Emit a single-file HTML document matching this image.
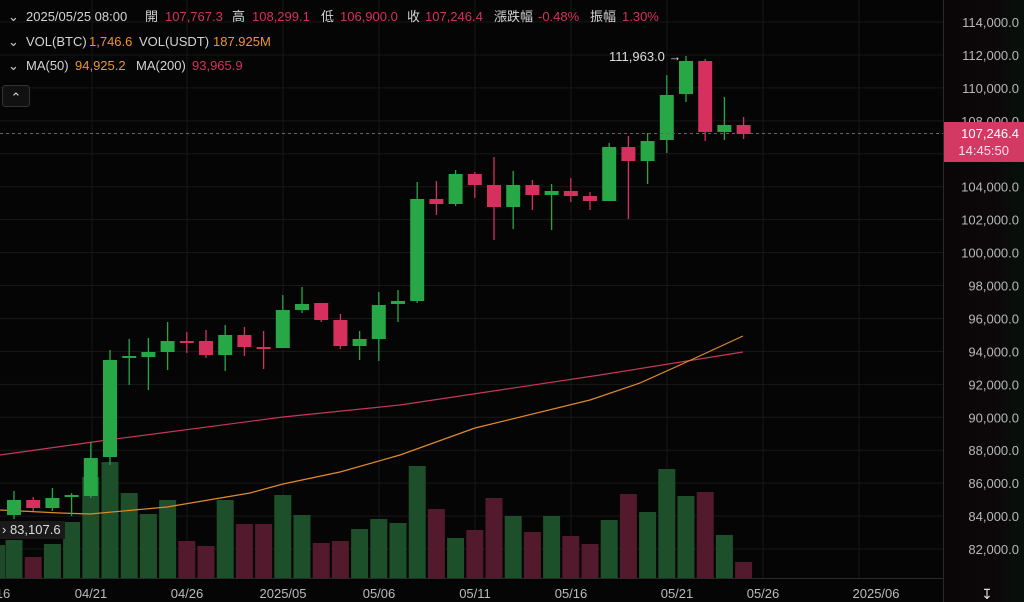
<!DOCTYPE html>
<html><head><meta charset="utf-8"><style>
html,body{margin:0;padding:0;background:#050505;width:1024px;height:602px;overflow:hidden;font-family:"Liberation Sans","Noto Sans CJK TC",sans-serif}
svg{position:absolute;left:0;top:0}
</style></head><body>
<svg id="s" width="1024" height="602" xmlns="http://www.w3.org/2000/svg"></svg>
<script>
const s=document.getElementById('s');let h='';
h+='<defs><linearGradient id="g" x1="0" x2="1"><stop offset="0" stop-color="#0a0608"/><stop offset="0.6" stop-color="#0c0709"/><stop offset="1" stop-color="#07110b"/></linearGradient></defs>';
h+='<rect x="944" y="0" width="80" height="602" fill="url(#g)"/>';
for(let i=0;i<=16;i++){const y=22+i*32.94;h+=`<line x1="0" x2="943" y1="${y}" y2="${y}" stroke="#181818" stroke-width="1"/>`;
 if(i!=3&&i!=4)h+=`<text x="1019" y="${y+5}" fill="#b8b8b8" font-size="13" text-anchor="end">${(114-2*i)},000.0</text>`;}
h+=`<text x="1019" y="${22+3*32.94+5}" fill="#b8b8b8" font-size="13" text-anchor="end">108,000.0</text>`;
[92,187,283,379,475,571,667,763,859].forEach(x=>h+=`<line x1="${x}" x2="${x}" y1="0" y2="578" stroke="#181818"/>`);
h+='<line x1="943.5" x2="943.5" y1="0" y2="602" stroke="#2a2a2a"/><line x1="0" x2="943" y1="578.5" y2="578.5" stroke="#2a2a2a"/>';
const vol=[540,557,544,522,477,462,493,514,500,541,546,500,524,524,495,515,543,541,529,519,523,466,509,538,530,498,516,532,516,536,544,520,494,512,469,496,492,535,562];
const C=[[1,500,515,491,519],[0,500,508,497,511],[1,498,508,488,511],[1,495,497,493,516],[1,458,496,442,498],[1,360,457,350,465],[1,356,358,339,385],[1,352,357,338,390],[1,341,352,322,370],[0,341,343,332,353],[0,341,355,330,358],[1,335,355,325,371],[0,335,347,327,356],[0,347,349,331,369],[1,310,348,295,348],[1,304,310,287,313],[0,303,320,303,322],[0,320,346,314,349],[1,339,346,331,360],[1,305,339,292,361],[1,301,304,290,322],[1,199,301,182,303],[0,199,204,181,215],[1,174,204,170,206],[0,174,185,172,198],[0,185,207,157,240],[1,185,207,171,229],[0,185,195,180,210],[1,191,195,184,230],[0,191,196,178,202],[0,196,201,192,210],[1,147,201,143,201],[0,147,161,136,219],[1,141,161,133,184],[1,95,140,75,153],[1,61,94,56,102],[0,61,132,59,141],[1,125,132,97,140],[0,125,134,117,139]];
h+=`<rect x="-8" y="545" width="13" height="33" fill="#1f4a2a"/>`;
vol.forEach((t,i)=>{const x=14+i*19.2;const c=C[i][0]?'#1d4f2a':'#521a2c';h+=`<rect x="${x-8.5}" y="${t}" width="17" height="${578-t}" fill="${c}"/>`});
h+='<polyline fill="none" stroke="#c8365a" stroke-width="1.2" points="0,455 100,441 283,417 400,405 500,390 600,375 743,352"/>';
h+='<polyline fill="none" stroke="#e08a2a" stroke-width="1.2" points="0,510 60,513 90,514 167,507 250,493 283,484 340,472 400,455 475,428 590,400 640,383 680,365 743,336"/>';
C.forEach((c,i)=>{const x=14+i*19.2;const col=c[0]?'#27a745':'#d6305e';h+=`<line x1="${x}" x2="${x}" y1="${c[3]}" y2="${c[4]}" stroke="${col}" stroke-width="1.3"/><rect x="${x-7}" y="${c[1]}" width="14" height="${Math.max(2,c[2]-c[1])}" fill="${col}"/>`});
h+='<line x1="0" x2="943" y1="133.5" y2="133.5" stroke="#c8365a" stroke-dasharray="3,3"/>';
h+='<rect x="944" y="122" width="80" height="40" fill="#d23a63"/><text x="1019" y="138" fill="#fff" font-size="13" text-anchor="end">107,246.4</text><text x="1009" y="155" fill="#fde" font-size="13" text-anchor="end">14:45:50</text>';
h+='<text x="609" y="61" fill="#ddd" font-size="13">111,963.0 →</text>';
h+='<rect x="0" y="521" width="65" height="18" fill="#1a1a1a"/><text x="2" y="534" fill="#ddd" font-size="13">› 83,107.6</text>';
[['16',3],['04/21',91],['04/26',187],['2025/05',283],['05/06',379],['05/11',475],['05/16',571],['05/21',677],['05/26',763],['2025/06',876]].forEach(([t,x])=>h+=`<text x="${x}" y="598" fill="#bbb" font-size="13" text-anchor="middle">${t}</text>`);
h+='<text x="987" y="599" fill="#ddd" font-size="14" text-anchor="middle">↧</text>';
const R='#d6305e',O='#f0952a',W='#d4d4d4';
function line(y,parts){h+=`<text x="8" y="${y}" fill="${W}" font-size="13">⌄</text>`;parts.forEach(p=>h+=`<text x="${p[2]}" y="${y}" font-size="13" fill="${p[1]}">${p[0]}</text>`);}
line(21,[['2025/05/25 08:00',W,26],['開',W,145],['107,767.3',R,165],['高',W,232],['108,299.1',R,252],['低',W,321],['106,900.0',R,340],['收',W,407],['107,246.4',R,425],['漲跌幅',W,494],['-0.48%',R,538],['振幅',W,590],['1.30%',R,622]]);
line(46,[['VOL(BTC)',W,26],['1,746.6',O,89],['VOL(USDT)',W,139],['187.925M',O,213]]);
line(70,[['MA(50)',W,26],['94,925.2',O,75],['MA(200)',W,136],['93,965.9',R,192]]);
h+='<rect x="2.5" y="85.5" width="27" height="21" rx="3" fill="#111" stroke="#333"/><text x="16" y="102" fill="#ddd" font-size="13" text-anchor="middle">⌃</text>';
s.innerHTML=h;
</script>
</body></html>
